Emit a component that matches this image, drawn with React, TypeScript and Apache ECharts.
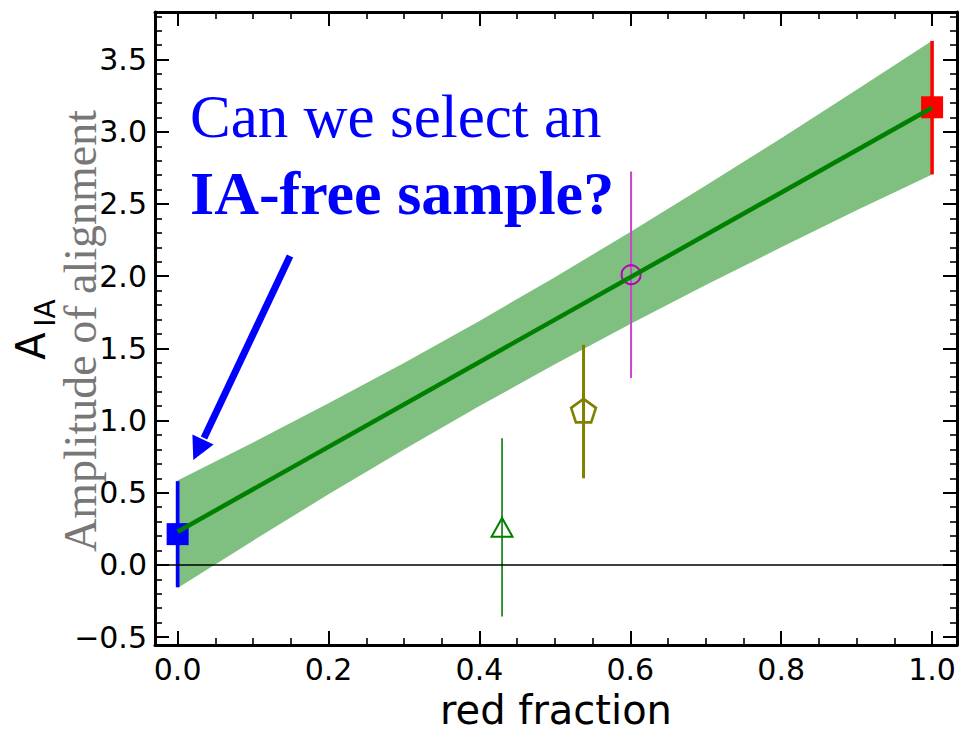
import React, { useEffect, useRef } from 'react';
import * as echarts from 'echarts';

// ---- axis ranges and ticks ----
const X_MIN = -0.03;
const X_MAX = 1.033;
const Y_MIN = -0.555;
const Y_MAX = 3.83;
const xMajorTicks = [0, 0.2, 0.4, 0.6, 0.8, 1.0];
const xMinorTicks = [0.05, 0.1, 0.15, 0.25, 0.3, 0.35, 0.45, 0.5, 0.55, 0.65, 0.7, 0.75, 0.85, 0.9, 0.95];
const yMajorTicks = [-0.5, 0, 0.5, 1.0, 1.5, 2.0, 2.5, 3.0, 3.5];
const yMinorTicks = [
  -0.4, -0.3, -0.2, -0.1, 0.1, 0.2, 0.3, 0.4, 0.6, 0.7, 0.8, 0.9, 1.1, 1.2, 1.3, 1.4,
  1.6, 1.7, 1.8, 1.9, 2.1, 2.2, 2.3, 2.4, 2.6, 2.7, 2.8, 2.9, 3.1, 3.2, 3.3, 3.4, 3.6, 3.7, 3.8,
];

// ---- fit band and fit line ----
const bandX = [0, 0.1, 0.2, 0.3, 0.4, 0.5, 0.6, 0.7, 0.8, 0.9, 1.0];
const bandLower = [-0.16, 0.168, 0.489, 0.8, 1.1, 1.389, 1.668, 1.938, 2.2, 2.457, 2.705];
const bandUpper = [0.584, 0.848, 1.119, 1.399, 1.69, 1.993, 2.306, 2.628, 2.956, 3.291, 3.63];
const fitX = [0, 1.0];
const fitY = [0.23, 3.167];

// ---- data points with error bars ----
const pointX = [0.0, 0.43, 0.538, 0.601, 1.0];
const pointY = [0.213, 0.26, 1.06, 2.01, 3.17];
const pointLow = [-0.155, -0.358, 0.6, 1.294, 2.705];
const pointHigh = [0.58, 0.878, 1.525, 2.725, 3.63];

// styles (separate from data)
const POINT_STYLES = [
  { marker: 'square', color: '#0000ff', barColor: '#0000ff', barWidth: 3.7, size: 22 },
  { marker: 'triangle', color: '#008000', barColor: '#1f8a1f', barWidth: 1.8, size: 21 },
  { marker: 'pentagon', color: '#808000', barColor: '#808000', barWidth: 3, size: 13 },
  { marker: 'circle', color: '#bb00bb', barColor: '#cc44cc', barWidth: 2, size: 9.5 },
  { marker: 'square', color: '#ff0000', barColor: '#ff0000', barWidth: 3.5, size: 22 },
];

const fmt = (v: number) => (v < 0 ? '\u2212' + Math.abs(v).toFixed(1) : v.toFixed(1));

const TICK_FONT = { fontSize: 30, fontFamily: 'DejaVu Sans', color: '#000' };

function makeXAxis(position: 'bottom' | 'top', major: boolean, withLabels: boolean) {
  return {
    type: 'value',
    position,
    min: X_MIN,
    max: X_MAX,
    splitLine: { show: false },
    axisLine: { show: major, onZero: false, lineStyle: { color: '#000', width: 3 } },
    axisTick: {
      show: true,
      inside: true,
      length: major ? 14 : 7,
      customValues: major ? xMajorTicks : xMinorTicks,
      lineStyle: { color: '#000', width: major ? 2 : 1.6 },
    },
    axisLabel: withLabels
      ? { show: true, customValues: xMajorTicks, formatter: fmt, margin: 9, ...TICK_FONT }
      : { show: false },
    ...(withLabels
      ? {
          name: 'red fraction',
          nameLocation: 'middle',
          nameGap: 50,
          nameTextStyle: { fontSize: 40, lineHeight: 30, fontFamily: 'DejaVu Sans', color: '#000' },
        }
      : {}),
  };
}

function makeYAxis(position: 'left' | 'right', major: boolean, withLabels: boolean) {
  return {
    type: 'value',
    position,
    min: Y_MIN,
    max: Y_MAX,
    splitLine: { show: false },
    axisLine: { show: major, onZero: false, lineStyle: { color: '#000', width: 3 } },
    axisTick: {
      show: true,
      inside: true,
      length: major ? 14 : 7,
      customValues: major ? yMajorTicks : yMinorTicks,
      lineStyle: { color: '#000', width: major ? 2 : 1.6 },
    },
    axisLabel: withLabels
      ? { show: true, customValues: yMajorTicks, formatter: fmt, margin: 8, ...TICK_FONT }
      : { show: false },
  };
}

export default function App() {
  const ref = useRef<HTMLDivElement>(null);

  useEffect(() => {
    if (!ref.current) return;
    const chart = echarts.init(ref.current, null, { renderer: 'svg' });

    const bandSeries = {
      type: 'custom',
      silent: true,
      data: [[bandX[0], bandLower[0]]],
      renderItem: (_params: any, api: any) => {
        const pts: number[][] = [];
        for (let i = 0; i < bandX.length; i++) pts.push(api.coord([bandX[i], bandUpper[i]]));
        for (let i = bandX.length - 1; i >= 0; i--) pts.push(api.coord([bandX[i], bandLower[i]]));
        return { type: 'polygon', shape: { points: pts }, style: { fill: 'rgba(0,128,0,0.5)' } };
      },
    };

    const fitSeries = {
      type: 'line',
      silent: true,
      showSymbol: false,
      symbol: 'none',
      data: fitX.map((x, i) => [x, fitY[i]]),
      lineStyle: { color: '#008000', width: 4.5 },
    };

    const pointSeries = {
      type: 'custom',
      silent: true,
      data: pointX.map((x, i) => [x, pointY[i], pointLow[i], pointHigh[i]]),
      encode: { x: 0, y: [1, 2, 3] },
      renderItem: (params: any, api: any) => {
        const st = POINT_STYLES[params.dataIndex];
        const x = api.value(0);
        const c = api.coord([x, api.value(1)]);
        const lo = api.coord([x, api.value(2)]);
        const hi = api.coord([x, api.value(3)]);
        const children: any[] = [
          {
            type: 'line',
            shape: { x1: lo[0], y1: lo[1], x2: hi[0], y2: hi[1] },
            style: { stroke: st.barColor, lineWidth: st.barWidth },
          },
        ];
        const s = st.size;
        if (st.marker === 'square') {
          children.push({
            type: 'rect',
            shape: { x: c[0] - s / 2, y: c[1] - s / 2, width: s, height: s },
            style: { fill: st.color },
          });
        } else if (st.marker === 'triangle') {
          const h = s * 0.9;
          children.push({
            type: 'polygon',
            shape: {
              points: [
                [c[0], c[1] - h / 2],
                [c[0] - s / 2, c[1] + h / 2],
                [c[0] + s / 2, c[1] + h / 2],
              ],
            },
            style: { fill: 'none', stroke: st.color, lineWidth: 2 },
          });
        } else if (st.marker === 'pentagon') {
          const pts: number[][] = [];
          for (let k = 0; k < 5; k++) {
            const a = (-90 + 72 * k) * (Math.PI / 180);
            pts.push([c[0] + s * Math.cos(a), c[1] + s * Math.sin(a)]);
          }
          children.push({
            type: 'polygon',
            shape: { points: pts },
            style: { fill: 'none', stroke: st.color, lineWidth: 2.6 },
          });
        } else {
          children.push({
            type: 'circle',
            shape: { cx: c[0], cy: c[1], r: s },
            style: { fill: 'none', stroke: st.color, lineWidth: 2 },
          });
        }
        return { type: 'group', children };
      },
    };

    const zeroSeries = {
      type: 'line',
      silent: true,
      showSymbol: false,
      symbol: 'none',
      data: [
        [X_MIN, 0],
        [X_MAX, 0],
      ],
      lineStyle: { color: '#000', width: 1.5 },
    };

    const option: any = {
      animation: false,
      backgroundColor: '#ffffff',
      grid: { left: 155, top: 12, right: 4, bottom: 89, containLabel: false, outerBoundsMode: 'none' },
      xAxis: [
        makeXAxis('bottom', true, true),
        makeXAxis('bottom', false, false),
        makeXAxis('top', true, false),
        makeXAxis('top', false, false),
      ],
      yAxis: [
        makeYAxis('left', true, true),
        makeYAxis('left', false, false),
        makeYAxis('right', true, false),
        makeYAxis('right', false, false),
      ],
      series: [bandSeries, fitSeries, pointSeries, zeroSeries],
      graphic: [
        {
          type: 'text',
          x: 80,
          y: 331,
          rotation: Math.PI / 2,
          z: 0,
          style: {
            text: 'Amplitude of alignment',
            align: 'center',
            verticalAlign: 'middle',
            fontSize: 46,
            fontFamily: 'Liberation Serif',
            fill: '#777777',
          },
        },
        {
          type: 'text',
          x: 31,
          y: 346,
          rotation: Math.PI / 2,
          style: {
            text: 'A',
            align: 'center',
            verticalAlign: 'middle',
            fontSize: 40,
            fontFamily: 'DejaVu Sans',
            fill: '#000',
          },
        },
        {
          type: 'text',
          x: 45,
          y: 313,
          rotation: Math.PI / 2,
          style: {
            text: 'IA',
            align: 'center',
            verticalAlign: 'middle',
            fontSize: 28,
            fontFamily: 'DejaVu Sans',
            fill: '#000',
          },
        },
        {
          type: 'text',
          x: 190,
          y: 116,
          style: {
            text: 'Can we select an',
            align: 'left',
            verticalAlign: 'middle',
            fontSize: 61,
            fontFamily: 'Liberation Serif',
            fill: '#0000ff',
          },
        },
        {
          type: 'text',
          x: 190,
          y: 193,
          style: {
            text: 'IA-free sample?',
            align: 'left',
            verticalAlign: 'middle',
            fontSize: 62,
            fontWeight: 'bold',
            fontFamily: 'Liberation Serif',
            fill: '#0000ff',
          },
        },
        {
          type: 'line',
          shape: { x1: 290, y1: 256, x2: 204, y2: 438 },
          style: { stroke: '#0000ff', lineWidth: 7 },
        },
        {
          type: 'polygon',
          shape: {
            points: [
              [193.3, 460],
              [213.6, 444.5],
              [192.4, 434.5],
            ],
          },
          style: { fill: '#0000ff' },
        },
      ],
    };

    chart.setOption(option);
    return () => chart.dispose();
  }, []);

  return (
    <div
      ref={ref}
      style={{ position: 'fixed', left: 0, top: 0, width: 961, height: 734, background: '#fff' }}
    />
  );
}
